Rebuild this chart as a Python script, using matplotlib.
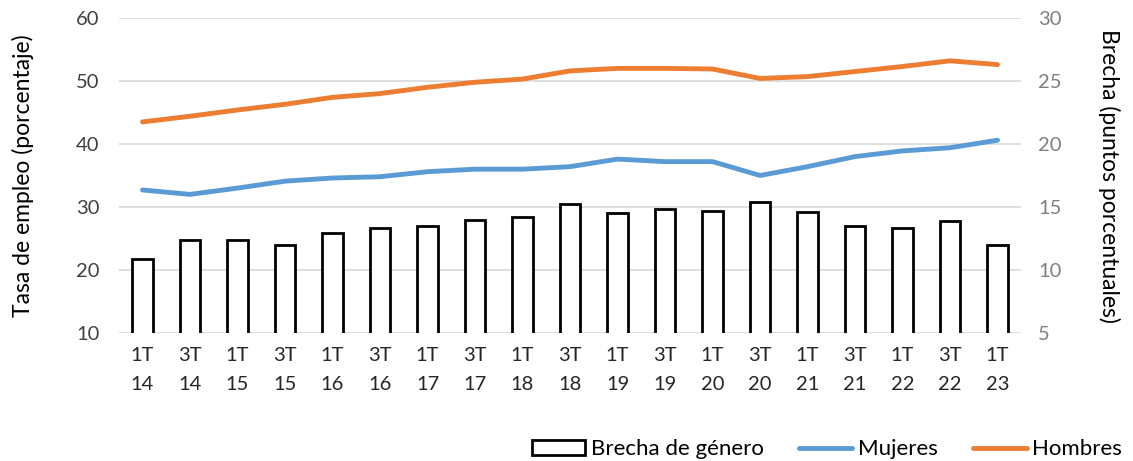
import numpy as np
import matplotlib.pyplot as plt

# Data
trimestres = ['1T\n14', '3T\n14', '1T\n15', '3T\n15', '1T\n16', '3T\n16', '1T\n17', '3T\n17',
              '1T\n18', '3T\n18', '1T\n19', '3T\n19', '1T\n20', '3T\n20', '1T\n21', '3T\n21',
              '1T\n22', '3T\n22', '1T\n23']
brecha = [10.9, 12.4, 12.4, 12.0, 12.9, 13.3, 13.5, 14.0, 14.2, 15.2,
          14.5, 14.8, 14.7, 15.4, 14.6, 13.5, 13.3, 13.9, 12.0]
mujeres = [32.7, 32.0, 33.0, 34.1, 34.6, 34.8, 35.6, 36.0, 36.0, 36.4,
           37.6, 37.2, 37.2, 35.0, 36.4, 38.0, 38.9, 39.4, 40.6]
hombres = [43.5, 44.4, 45.4, 46.3, 47.4, 48.0, 49.0, 49.8, 50.3, 51.6,
           52.0, 52.0, 51.9, 50.4, 50.7, 51.5, 52.3, 53.2, 52.6]

plt.rcParams['font.family'] = ['Lato', 'DejaVu Sans']

fig = plt.figure(figsize=(11.33, 4.61), dpi=100)
ax = fig.add_axes([0.1048, 0.2777, 0.7966, 0.6833])
ax2 = ax.twinx()

x = np.arange(len(trimestres))

# bars on the right axis, drawn behind the lines
ax2.bar(x, brecha, width=0.44, facecolor='white', edgecolor='black', linewidth=2,
        label='Brecha de género', zorder=2)
ax2.set_ylim(5, 30)
ax2.set_yticks([5, 10, 15, 20, 25, 30])

ax.set_zorder(ax2.get_zorder() + 1)
ax.patch.set_visible(False)
ax.plot(x, mujeres, color='#5B9BD5', linewidth=3.5, label='Mujeres', solid_capstyle='round')
ax.plot(x, hombres, color='#ED7D31', linewidth=3.5, label='Hombres', solid_capstyle='round')
ax.set_ylim(10, 60)
ax.set_yticks([10, 20, 30, 40, 50, 60])
ax.set_xlim(-0.5, len(trimestres) - 0.5)
ax.set_xticks(x)
ax.set_xticklabels(trimestres, linespacing=1.9)

ax2.yaxis.grid(True, color='#D9D9D9', linewidth=1.2, zorder=0)
ax2.set_axisbelow(True)

for a in (ax, ax2):
    for s in a.spines.values():
        s.set_visible(False)
    a.tick_params(length=0, labelsize=14.5)
ax.tick_params(axis='y', pad=14, labelcolor='#404040')
ax2.tick_params(axis='y', pad=12, labelcolor='#7F7F7F')
ax.tick_params(axis='x', pad=10, labelcolor='#262626')

ax.set_ylabel('Tasa de empleo (porcentaje)', fontsize=16.5, color='black', labelpad=30)
ax2.set_ylabel('Brecha (puntos porcentuales)', fontsize=16.5, color='black',
               rotation=270, labelpad=42)

h1, l1 = ax2.get_legend_handles_labels()
h2, l2 = ax.get_legend_handles_labels()
fig.legend(h1 + h2, l1 + l2, loc='lower right', bbox_to_anchor=(1.008, -0.04), ncol=3,
           frameon=False, fontsize=16, handlelength=2.4, columnspacing=1.6, handletextpad=0.25)

fig.savefig('out.png', dpi=100)
